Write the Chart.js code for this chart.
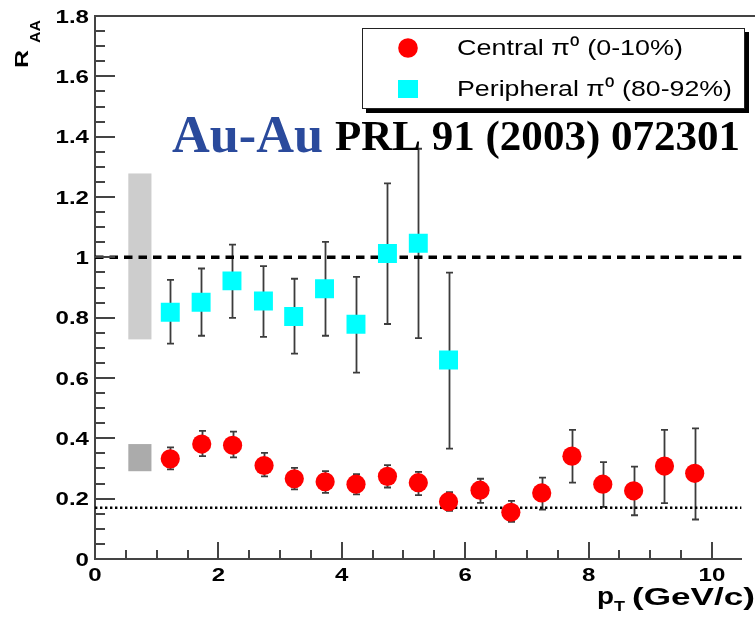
<!DOCTYPE html>
<html><head><meta charset="utf-8">
<script src="https://cdn.jsdelivr.net/npm/chart.js@4"></script>
<style>html,body{margin:0;padding:0;background:#fff;overflow:hidden}</style>
</head><body>
<canvas id="c" width="755" height="622" style="display:block;width:755px;height:622px"></canvas>
<script>
// ---------------- data ----------------
const ptCentral      = [1.22,1.73,2.23,2.74,3.23,3.73,4.23,4.74,5.24,5.73,6.24,6.74,7.24,7.73,8.23,8.73,9.23,9.72];
const raaCentral     = [0.332,0.381,0.377,0.310,0.266,0.256,0.248,0.274,0.253,0.190,0.228,0.155,0.219,0.341,0.248,0.226,0.308,0.284];
const centralLow     = [0.297,0.341,0.337,0.274,0.231,0.219,0.214,0.237,0.212,0.160,0.186,0.123,0.164,0.253,0.173,0.145,0.185,0.131];
const centralHigh    = [0.370,0.425,0.422,0.352,0.302,0.291,0.281,0.311,0.289,0.222,0.266,0.193,0.270,0.428,0.321,0.306,0.428,0.433];

const ptPeripheral   = [1.22,1.72,2.22,2.73,3.22,3.72,4.23,4.74,5.24,5.73];
const raaPeripheral  = [0.818,0.851,0.922,0.855,0.804,0.896,0.778,1.013,1.047,0.660];
const peripheralLow  = [0.714,0.740,0.799,0.736,0.681,0.740,0.618,0.779,0.732,0.366];
const peripheralHigh = [0.925,0.963,1.042,0.971,0.929,1.051,0.935,1.245,1.360,0.949];

const sysPeripheral  = [0.728, 1.278];   // normalisation band (peripheral)
const sysCentral     = [0.291, 0.381];   // normalisation band (central)
const sysBandPt      = [0.54, 0.915];
const unityLevel     = 1.0;
const ncollLevel     = 0.17;

const xTickValues    = [0, 2, 4, 6, 8, 10];
const yTickValues    = [0, 0.2, 0.4, 0.6, 0.8, 1, 1.2, 1.4, 1.6, 1.8];
const xTickLabels    = ['0', '2', '4', '6', '8', '10'];
const yTickLabels    = ['0', '0.2', '0.4', '0.6', '0.8', '1', '1.2', '1.4', '1.6', '1.8'];
const xRange         = [0, 10.48];
const yRange         = [0, 1.8];

const legendLabels   = ['Central \u03C0\u2070 (0-10%)', 'Peripheral \u03C0\u2070 (80-92%)'];
const systemLabel    = 'Au-Au';
const refLabel       = 'PRL 91 (2003) 072301';
// -------------------------------------------------------------

const toXY = (xs, ys) => xs.map((x, i) => ({x, y: ys[i]}));

function fitText(ctx, s, x, y, w) {
  const m = ctx.measureText(s).width;
  ctx.save(); ctx.translate(x, y); ctx.scale(w / m, 1); ctx.fillText(s, 0, 0); ctx.restore();
}

const decor = {
  id: 'decor',
  beforeDatasetsDraw(chart) {
    const {ctx, scales: {x, y}} = chart;
    ctx.save();
    const bx0 = x.getPixelForValue(sysBandPt[0]), bx1 = x.getPixelForValue(sysBandPt[1]);
    ctx.fillStyle = '#cdcdcd';
    let ya = y.getPixelForValue(sysPeripheral[1]), yb = y.getPixelForValue(sysPeripheral[0]);
    ctx.fillRect(bx0, ya, bx1 - bx0, yb - ya);
    ctx.fillStyle = '#ababab';
    ya = y.getPixelForValue(sysCentral[1]); yb = y.getPixelForValue(sysCentral[0]);
    ctx.fillRect(bx0, ya, bx1 - bx0, yb - ya);
    ctx.strokeStyle = '#3c3c3c';
    ctx.lineWidth = 1.8;
    const bars = (xs, lo, hi) => {
      xs.forEach((v, i) => {
        const px = Math.round(x.getPixelForValue(v)) + 0.5;
        const p1 = y.getPixelForValue(hi[i]), p0 = y.getPixelForValue(lo[i]);
        ctx.beginPath();
        ctx.moveTo(px, p1); ctx.lineTo(px, p0);
        ctx.moveTo(px - 3.5, p1); ctx.lineTo(px + 3.5, p1);
        ctx.moveTo(px - 3.5, p0); ctx.lineTo(px + 3.5, p0);
        ctx.stroke();
      });
    };
    bars(ptPeripheral, peripheralLow, peripheralHigh);
    bars(ptCentral, centralLow, centralHigh);
    ctx.restore();
  },
  afterDraw(chart) {
    const {ctx, chartArea: a, scales: {x, y}} = chart;
    ctx.save();
    ctx.strokeStyle = '#444';
    ctx.lineWidth = 2;
    ctx.beginPath(); ctx.moveTo(a.left, a.top); ctx.lineTo(chart.width, a.top); ctx.stroke();
    ctx.beginPath();
    for (let k = 0; k <= 36; k++) {
      const py = Math.round(y.getPixelForValue(k * 0.05));
      const len = (k % 4 === 0) ? 20 : 10;
      ctx.moveTo(a.left, py); ctx.lineTo(a.left + len, py);
    }
    for (let k = 1; k <= 20; k++) {
      const px = Math.round(x.getPixelForValue(k * 0.5));
      const len = (k % 4 === 0) ? 17 : 9;
      ctx.moveTo(px, a.bottom); ctx.lineTo(px, a.bottom - len);
    }
    ctx.stroke();

    // tick labels (positions from the library's scales)
    ctx.fillStyle = '#000';
    ctx.font = 'bold 18.5px "Liberation Sans"';
    ctx.textBaseline = 'alphabetic';
    yTickValues.forEach((v, i) => {
      const py = y.getPixelForValue(v);
      ctx.save(); ctx.translate(89, py + 6.7); ctx.scale(1.3, 1);
      ctx.textAlign = 'right'; ctx.fillText(yTickLabels[i], 0, 0); ctx.restore();
    });
    xTickValues.forEach((v, i) => {
      const px = x.getPixelForValue(v);
      ctx.save(); ctx.translate(px, 580.5); ctx.scale(1.3, 1);
      ctx.textAlign = 'center'; ctx.fillText(xTickLabels[i], 0, 0); ctx.restore();
    });

    ctx.textAlign = 'left';
    ctx.fillStyle = '#2a4a9c';
    ctx.font = 'bold 52px "Liberation Serif"';
    fitText(ctx, systemLabel, 172, 152, 151);
    ctx.fillStyle = '#000';
    ctx.font = 'bold 43px "Liberation Serif"';
    fitText(ctx, refLabel, 335, 150, 405);

    ctx.fillStyle = '#000';
    ctx.fillRect(366, 32, 383, 81);
    ctx.fillStyle = '#fff';
    ctx.fillRect(362, 28, 383, 81);
    ctx.strokeStyle = '#222'; ctx.lineWidth = 1;
    ctx.strokeRect(362.5, 28.5, 382, 80);
    ctx.fillStyle = '#ff0000';
    ctx.beginPath(); ctx.arc(408, 48, 9.8, 0, Math.PI * 2); ctx.fill();
    ctx.fillStyle = '#00ffff';
    ctx.fillRect(398, 80, 20, 18);
    ctx.fillStyle = '#000';
    ctx.font = '22px "Liberation Sans"';
    fitText(ctx, legendLabels[0], 457, 55, 226);
    fitText(ctx, legendLabels[1], 457, 96, 275);

    ctx.font = 'bold 24px "Liberation Sans"';
    fitText(ctx, 'p', 597, 604, 17);
    ctx.font = 'bold 15px "Liberation Sans"';
    fitText(ctx, 'T', 614, 611, 11);
    ctx.font = 'bold 23px "Liberation Sans"';
    fitText(ctx, '(GeV/c)', 632, 605, 123);

    ctx.save();
    ctx.translate(28, 68);
    ctx.rotate(-Math.PI / 2);
    ctx.font = 'bold 18px "Liberation Sans"';
    fitText(ctx, 'R', 0, 0, 18);
    ctx.font = 'bold 14px "Liberation Sans"';
    fitText(ctx, 'AA', 25, 12, 23);
    ctx.restore();
    ctx.restore();
  }
};

new Chart(document.getElementById('c'), {
  type: 'scatter',
  data: {
    datasets: [
      {
        label: legendLabels[0],
        data: toXY(ptCentral, raaCentral),
        pointStyle: 'circle', pointRadius: 9.6, pointHoverRadius: 9.6,
        backgroundColor: '#ff0000', borderWidth: 0, order: 1
      },
      {
        label: legendLabels[1],
        data: toXY(ptPeripheral, raaPeripheral),
        pointStyle: 'rect', pointRadius: 13.4, pointHoverRadius: 13.4,
        backgroundColor: '#00ffff', borderWidth: 0, order: 1
      },
      {
        type: 'line', label: 'unity',
        data: [{x: xRange[0], y: unityLevel}, {x: xRange[1], y: unityLevel}],
        borderColor: '#000', borderWidth: 3.5, borderDash: [8.5, 6],
        pointRadius: 0, order: 3
      },
      {
        type: 'line', label: 'ncoll',
        data: [{x: xRange[0], y: ncollLevel}, {x: xRange[1], y: ncollLevel}],
        borderColor: '#000', borderWidth: 2.4, borderDash: [2.4, 2.6],
        pointRadius: 0, order: 3
      }
    ]
  },
  options: {
    responsive: false,
    animation: false,
    events: [],
    layout: {padding: {top: 16, right: 0, left: 0, bottom: 0}},
    plugins: {legend: {display: false}, tooltip: {enabled: false}},
    scales: {
      x: {
        type: 'linear', min: xRange[0], max: xRange[1],
        afterFit: s => { s.height = 63; },
        afterBuildTicks: s => { s.ticks = xTickValues.map(v => ({value: v})); },
        ticks: {display: false},
        grid: {display: true, drawOnChartArea: false, drawTicks: false},
        border: {display: true, color: '#444', width: 2}
      },
      y: {
        type: 'linear', min: yRange[0], max: yRange[1],
        afterFit: s => { s.width = 95; },
        afterBuildTicks: s => { s.ticks = yTickValues.map(v => ({value: v})); },
        ticks: {display: false},
        grid: {display: true, drawOnChartArea: false, drawTicks: false},
        border: {display: true, color: '#444', width: 2}
      }
    }
  },
  plugins: [decor]
});
</script>
</body></html>
